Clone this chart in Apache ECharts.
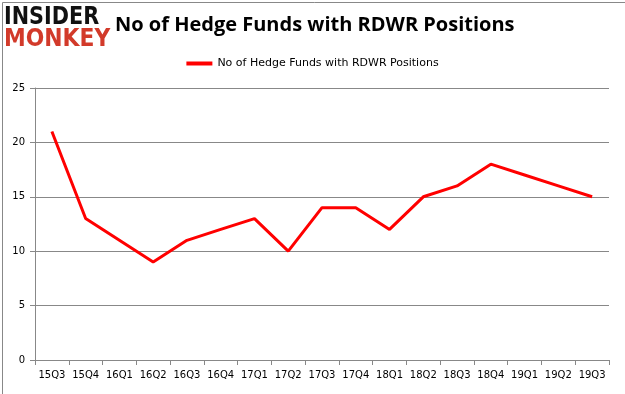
<!DOCTYPE html>
<html><head><meta charset="utf-8">
<script src="https://cdn.jsdelivr.net/npm/echarts@6/dist/echarts.min.js"></script>
<style>html,body{margin:0;padding:0;background:#fff}#c{width:625px;height:394px}</style>
</head><body><div id="c"></div>
<script>
const categories = ["15Q3","15Q4","16Q1","16Q2","16Q3","16Q4","17Q1","17Q2","17Q3","17Q4","18Q1","18Q2","18Q3","18Q4","19Q1","19Q2","19Q3"];
const values = [21,13,11,9,11,12,13,10,14,14,12,15,16,18,17,16,15];
const yTicks = [0,5,10,15,20,25];
const seriesName = "No of Hedge Funds with RDWR Positions";
const titleText = "No of Hedge Funds with RDWR Positions";

const chart = echarts.init(document.getElementById('c'), null, {renderer:'canvas'});
chart.setOption({
  animation:false,
  backgroundColor:'#fff',
  title:{text:titleText,left:110,top:10,textStyle:{fontFamily:'Open Sans',fontSize:20,fontWeight:'bold',color:'#000'}},
  legend:{top:53,left:'center',itemWidth:26,itemHeight:4,icon:'rect',
    textStyle:{fontFamily:'DejaVu Sans',fontSize:11,color:'#000'},data:[seriesName]},
  grid:{left:35,right:16,top:88,bottom:34},
  xAxis:{type:'category',data:categories,boundaryGap:true,
    axisLine:{lineStyle:{color:'#888'}},axisTick:{show:true,interval:0,lineStyle:{color:'#888'}},
    axisLabel:{color:'#000',fontFamily:'DejaVu Sans',fontSize:10,margin:10,interval:0}},
  yAxis:{type:'value',min:yTicks[0],max:yTicks[yTicks.length-1],interval:5,
    axisLine:{show:true,lineStyle:{color:'#888'}},axisTick:{show:true,lineStyle:{color:'#888'}},
    splitLine:{lineStyle:{color:'#888'}},
    axisLabel:{color:'#000',fontFamily:'DejaVu Sans',fontSize:10,margin:10}},
  series:[{name:seriesName,type:'line',data:values,symbol:'none',
    lineStyle:{color:'#ff0000',width:3},itemStyle:{color:'#ff0000'}}],
  graphic:[
    {type:'rect',left:0,top:0,shape:{width:624,height:393},style:{fill:'none',stroke:'#888',lineWidth:1},silent:true},
    {type:'text',x:4,y:5,scaleX:0.83,style:{text:'INSIDER',fontFamily:'DejaVu Sans',fontWeight:'bold',fontSize:25,fill:'#111'}},
    {type:'text',x:4,y:28,scaleX:0.91,style:{text:'MONKEY',fontFamily:'DejaVu Sans',fontWeight:'bold',fontSize:24,fill:'#d23a2a'}}
  ]
});
</script></body></html>
